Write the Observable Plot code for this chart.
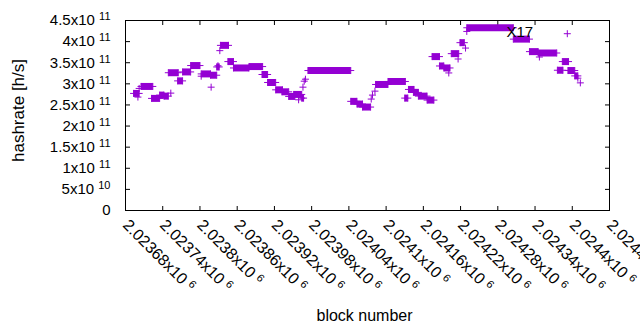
<!DOCTYPE html>
<html><head><meta charset="utf-8">
<script src="https://cdn.jsdelivr.net/npm/d3@7"></script>
<script src="https://cdn.jsdelivr.net/npm/@observablehq/plot@0.6"></script>
<style>body{margin:0;background:#fff} svg{display:block}</style>
</head><body><div id="chart"></div>
<script>
// Plateaus (runs of consecutive blocks sharing the same estimate)
const segStart = [2023693, 2023705, 2023722, 2023735, 2023742, 2023749, 2023764, 2023772, 2023785, 2023802, 2023817, 2023827, 2023833, 2023845, 2023854, 2023879, 2023900, 2023909, 2023922, 2023932, 2023943, 2023951, 2023964, 2023974, 2024043, 2024053, 2024062, 2024083, 2024103, 2024130, 2024136, 2024144, 2024152, 2024166, 2024174, 2024186, 2024193, 2024205, 2024219, 2024230, 2024305, 2024331, 2024345, 2024376, 2024384, 2024393, 2024404];
const segEnd = [2023702, 2023724, 2023735, 2023742, 2023749, 2023765, 2023772, 2023785, 2023800, 2023817, 2023827, 2023831, 2023846, 2023854, 2023879, 2023901, 2023909, 2023922, 2023933, 2023943, 2023953, 2023964, 2023967, 2024043, 2024053, 2024062, 2024075, 2024103, 2024131, 2024135, 2024145, 2024152, 2024166, 2024177, 2024186, 2024193, 2024203, 2024217, 2024226, 2024305, 2024331, 2024345, 2024375, 2024385, 2024394, 2024404, 2024409];
const segValue = [2.773e11, 2.938e11, 2.655e11, 2.733e11, 2.709e11, 3.263e11, 3.070e11, 3.282e11, 3.433e11, 3.235e11, 3.204e11, 3.400e11, 3.911e11, 3.527e11, 3.376e11, 3.409e11, 3.221e11, 3.032e11, 2.858e11, 2.811e11, 2.702e11, 2.749e11, 2.662e11, 3.315e11, 2.585e11, 2.521e11, 2.450e11, 2.985e11, 3.056e11, 2.662e11, 2.867e11, 2.797e11, 2.709e11, 2.615e11, 3.645e11, 3.423e11, 3.376e11, 3.715e11, 3.975e11, 4.328e11, 4.059e11, 3.763e11, 3.730e11, 3.322e11, 3.527e11, 3.315e11, 3.188e11];
// Isolated points
const ptBlock = [2023700, 2023702, 2023753, 2023802, 2023818, 2023829, 2023832, 2023959, 2023966, 2023968, 2023970, 2024076, 2024078, 2024082, 2024201, 2024216, 2024228, 2024230, 2024347, 2024392, 2024409, 2024413];
const ptValue = [2.686e11, 2.891e11, 2.780e11, 3.181e11, 2.921e11, 3.428e11, 3.786e11, 2.622e11, 2.921e11, 3.063e11, 3.110e11, 2.639e11, 2.733e11, 2.827e11, 3.258e11, 3.588e11, 3.847e11, 4.241e11, 3.635e11, 4.187e11, 3.134e11, 3.023e11];
// Ticks
const xTicks = [2023680, 2023740, 2023800, 2023860, 2023920, 2023980, 2024040, 2024100, 2024160, 2024220, 2024280, 2024340, 2024400, 2024460];
const xTickLabels = ["2.02368x10^6", "2.02374x10^6", "2.0238x10^6", "2.02386x10^6", "2.02392x10^6", "2.02398x10^6", "2.02404x10^6", "2.0241x10^6", "2.02416x10^6", "2.02422x10^6", "2.02428x10^6", "2.02434x10^6", "2.0244x10^6", "2.02446x10^6"];
const yTicks = [0, 0.5e11, 1e11, 1.5e11, 2e11, 2.5e11, 3e11, 3.5e11, 4e11, 4.5e11];
const yTickLabels = ["0", "5x10^10", "1x10^11", "1.5x10^11", "2x10^11", "2.5x10^11", "3x10^11", "3.5x10^11", "4x10^11", "4.5x10^11"];
const note = {block: 2024294, value: 4.1e11, text: "X17"};

const segs = segStart.map((s, i) => ({start: s, end: segEnd[i], v: segValue[i]}));
const pts = ptBlock.map((b, i) => ({b, v: ptValue[i]}));
const xt = xTicks.map((t, i) => ({t, label: xTickLabels[i]}));
const yt = yTicks.map((t, i) => ({t, label: yTickLabels[i]}));

const purple = "#9400d3";
const plusSym = {draw(c) { const h = 3.5; c.moveTo(-h, 0); c.lineTo(h, 0); c.moveTo(0, -h); c.lineTo(0, h); }};
const tickL = {draw(c) { c.moveTo(0, 0); c.lineTo(4.5, 0); }};
const tickR = {draw(c) { c.moveTo(0, 0); c.lineTo(-4.5, 0); }};
const tickB = {draw(c) { c.moveTo(0, 0); c.lineTo(0, -4.5); }};
const tickT = {draw(c) { c.moveTo(0, 0); c.lineTo(0, 4.5); }};
const font = "Liberation Sans, Arial, sans-serif";

const svg = Plot.plot({
  width: 640, height: 330,
  marginLeft: 125, marginRight: 31, marginTop: 20, marginBottom: 120,
  x: {domain: [2023680, 2024460], axis: null},
  y: {domain: [0, 4.5e11], axis: null},
  style: {fontFamily: font, fontSize: "15px", background: "white", color: "black"},
  marks: [
    Plot.dot(yt, {y: "t", frameAnchor: "left", symbol: tickL, stroke: "black", fill: "none", strokeWidth: 1}),
    Plot.dot(yt, {y: "t", frameAnchor: "right", symbol: tickR, stroke: "black", fill: "none", strokeWidth: 1}),
    Plot.dot(xt, {x: "t", frameAnchor: "bottom", symbol: tickB, stroke: "black", fill: "none", strokeWidth: 1}),
    Plot.dot(xt, {x: "t", frameAnchor: "top", symbol: tickT, stroke: "black", fill: "none", strokeWidth: 1}),
    Plot.link(segs, {x1: "start", x2: "end", y1: "v", y2: "v", stroke: purple, strokeWidth: 7}),
    Plot.dot(segs, {x: "start", y: "v", symbol: plusSym, stroke: purple, fill: "none", strokeWidth: 1}),
    Plot.dot(segs, {x: "end", y: "v", symbol: plusSym, stroke: purple, fill: "none", strokeWidth: 1}),
    Plot.dot(pts, {x: "b", y: "v", symbol: plusSym, stroke: purple, fill: "none", strokeWidth: 1}),
    Plot.text([note], {x: "block", y: "value", text: "text", textAnchor: "start", lineAnchor: "bottom", fontSize: 15, fill: "black"}),
    Plot.frame({stroke: "black", strokeWidth: 1}),
    Plot.text(yt, {y: "t", frameAnchor: "left", dx: -15, textAnchor: "end", text: "label", fontSize: 15, fill: "black"}),
    Plot.text(xt, {x: "t", frameAnchor: "bottom", dx: 0, dy: 12, rotate: 45, textAnchor: "start", lineAnchor: "middle", text: "label", fontSize: 16, fill: "black"}),
    Plot.text(["hashrate [h/s]"], {frameAnchor: "left", dx: -107, dy: -5, rotate: -90, textAnchor: "middle", lineAnchor: "middle", text: d => d, fontSize: 17, fill: "black"}),
    Plot.text(["block number"], {frameAnchor: "bottom", dx: -3, dy: 110.5, textAnchor: "middle", lineAnchor: "bottom", text: d => d, fontSize: 16, fill: "black"})
  ]
});

svg.querySelectorAll("text").forEach(t => {
  const s = t.textContent;
  if (!s.includes("^")) return;
  const [base, exp] = s.split("^");
  t.textContent = "";
  t.appendChild(document.createTextNode(base + " "));
  const ts = document.createElementNS("http://www.w3.org/2000/svg", "tspan");
  ts.setAttribute("dy", "-5");
  ts.setAttribute("font-size", "11");
  ts.textContent = exp;
  t.appendChild(ts);
});

document.getElementById("chart").appendChild(svg);
</script>
</body></html>
